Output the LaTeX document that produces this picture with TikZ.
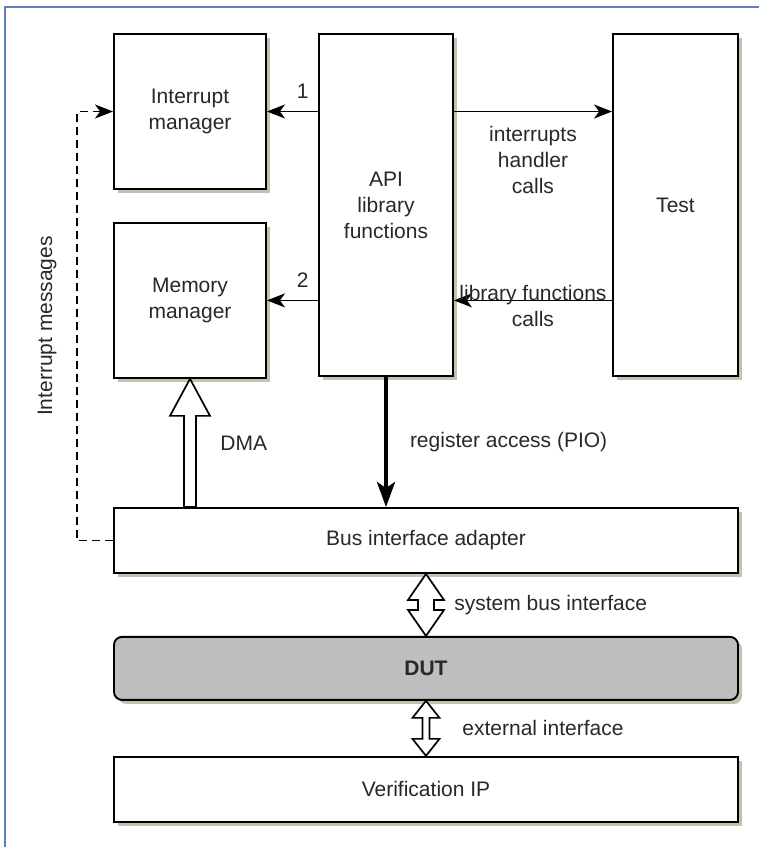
\documentclass[tikz,border=0pt]{standalone}
\usepackage{fontspec}
\setmainfont{Liberation Sans}
\usetikzlibrary{positioning,arrows.meta,shadows,calc}

\definecolor{framecol}{RGB}{91,127,191}
\definecolor{shadowcol}{RGB}{190,186,168}
\definecolor{dutgray}{RGB}{190,190,190}
\definecolor{txt}{RGB}{40,40,40}

\tikzset{
  box/.style={draw, fill=white, line width=0.95pt, align=center, text=txt,
    drop shadow={shadow xshift=2pt, shadow yshift=-2pt, fill=shadowcol, opacity=0.9}},
  arr/.style={line width=0.85pt, -{Stealth[length=9pt,width=7pt,inset=2.5pt]}},
  bigarr/.style={line width=2pt, -{Stealth[length=12.5pt,width=9pt,inset=3pt]}},
  hollow/.style={draw, fill=white, line width=0.85pt, line join=miter},
  lbl/.style={inner sep=0pt, text=txt, align=center},
}

\begin{document}
\begin{tikzpicture}[x=0.5pt, y=-0.5pt, font=\fontsize{10.5pt}{13pt}\selectfont]
    \useasboundingbox (0,0) rectangle (759,847);
    \draw[framecol, line width=0.75pt] (759,7) -- (5,7) -- (5,847);

    % upper row
    \node[box, minimum width=76pt, minimum height=77.5pt] (im) at (190,111.5) {Interrupt\\manager};
    \node[box, minimum width=76pt, minimum height=77.5pt, below=16pt of im] (mm) {Memory\\manager};
    \node[box, minimum width=67pt, minimum height=171pt] (api) at (386,205) {API\\library\\functions};
    \node[box, minimum width=62.5pt, minimum height=171pt] (test) at (675.5,205) {Test};

    % lower row
    \node[box, minimum width=312pt, minimum height=32.5pt] (bus) at (426,540.5) {Bus interface adapter};
    \node[box, fill=dutgray, rounded corners=4pt, minimum width=312pt, minimum height=31.5pt,
          below=31pt of bus, font=\fontsize{10.5pt}{13pt}\selectfont\bfseries] (dut) {DUT};
    \node[box, minimum width=312pt, minimum height=32.5pt, below=27.5pt of dut] (vip) {Verification IP};

    % calls between the blocks
    \draw[arr] (api.west |- im.east) -- (im.east) node[lbl, pos=0.3, above=6pt] {1};
    \draw[arr] (api.west |- mm.east) -- (mm.east) node[lbl, pos=0.3, above=6pt] {2};
    \draw[arr] (api.east |- im.east) -- (test.west |- im.east)
        node[lbl, midway, below=7pt] {interrupts\\handler\\calls};
    \draw[arr] (test.west |- mm.east) -- (api.east |- mm.east)
        node[lbl, midway, yshift=-3pt] {library functions\\calls};
    \draw[bigarr] (api.south) -- (api.south |- bus.north)
        node[lbl, midway, right=11pt] {register access (PIO)};
    \draw[arr, dash pattern=on 4pt off 2.5pt] (bus.west) -- ++(-36,0) coordinate (dcorner)
        -- (dcorner |- im.west) node[lbl, midway, xshift=-15pt, rotate=90] {Interrupt messages}
        -- (im.west);

    % DMA
    \draw[hollow] (mm.south) -- ++(20,37) coordinate (dmahead) -- ++(-14,0)
        |- ($(mm.south |- bus.north)+(-6,0)$) |- ($(dmahead)+(-26,0)$) -- ++(-14,0) -- cycle;
    \node[lbl, right=15pt] (dma) at ($(mm.south)!0.5!(mm.south |- bus.north)$) {DMA};

    % bus and external interfaces
    \draw[hollow] (bus.south) -- ++(18,26) -- ++(-10,0) -- ++(0,10) -- ++(10,0) -- (dut.north)
        -- ++(-18,-26) -- ++(10,0) -- ++(0,-10) -- ++(-10,0) -- cycle;
    \node[lbl, anchor=west, xshift=14pt] (sbi) at ($(bus.south)!0.5!(dut.north)$) {system bus interface};
    \draw[hollow] (dut.south) -- ++(13.5,17) -- ++(-10,0) -- ++(0,21) -- ++(10,0) -- (vip.north)
        -- ++(-13.5,-17) -- ++(10,0) -- ++(0,-21) -- ++(-10,0) -- cycle;
    \node[lbl, anchor=west, xshift=18pt] (ext) at ($(dut.south)!0.5!(vip.north)$) {external interface};
\end{tikzpicture}
\end{document}
